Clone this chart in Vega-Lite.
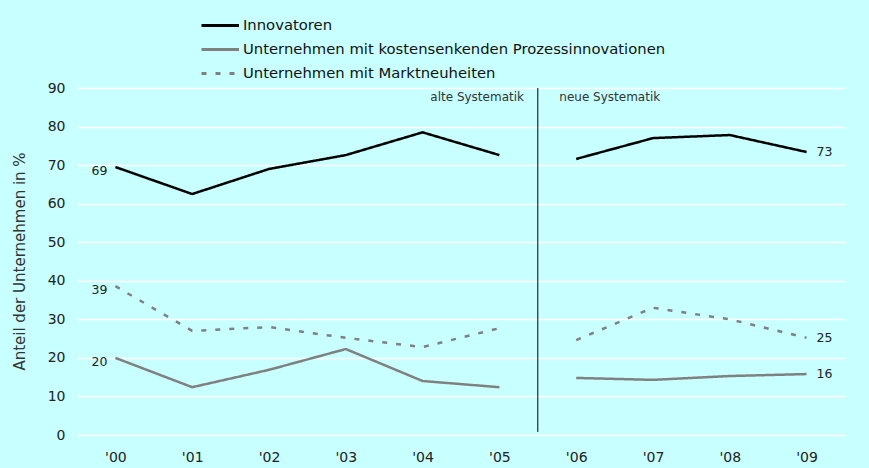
{
  "$schema": "https://vega.github.io/schema/vega-lite/v6.json",
  "width": 768,
  "height": 347,
  "autosize": "none",
  "padding": {"left": 77, "top": 88, "right": 24, "bottom": 33},
  "background": "#c8ffff",
  "config": {
    "view": {"stroke": null},
    "font": "DejaVu Sans",
    "axis": {"labelColor": "#222222", "labelFontSize": 14, "titleColor": "#333333", "domain": false, "ticks": false, "labelOverlap": false},
    "axisX": {"grid": false, "labelPadding": 15},
    "axisY": {"grid": true, "gridColor": "#ffffff", "gridWidth": 1.5, "labelPadding": 12, "titleFontSize": 15, "titleFontWeight": "normal", "titleX": -57.5, "titleY": 173, "titleBaseline": "middle"}
  },
  "datasets": {
    "lines": [
      {"year": 0, "series": "Innovatoren", "period": "alt", "value": 69.5},
      {"year": 1, "series": "Innovatoren", "period": "alt", "value": 62.5},
      {"year": 2, "series": "Innovatoren", "period": "alt", "value": 69},
      {"year": 3, "series": "Innovatoren", "period": "alt", "value": 72.6},
      {"year": 4, "series": "Innovatoren", "period": "alt", "value": 78.5},
      {"year": 5, "series": "Innovatoren", "period": "alt", "value": 72.6},
      {"year": 6, "series": "Innovatoren", "period": "neu", "value": 71.6},
      {"year": 7, "series": "Innovatoren", "period": "neu", "value": 77},
      {"year": 8, "series": "Innovatoren", "period": "neu", "value": 77.8},
      {"year": 9, "series": "Innovatoren", "period": "neu", "value": 73.4},
      {"year": 0, "series": "Unternehmen mit kostensenkenden Prozessinnovationen", "period": "alt", "value": 20},
      {"year": 1, "series": "Unternehmen mit kostensenkenden Prozessinnovationen", "period": "alt", "value": 12.4},
      {"year": 2, "series": "Unternehmen mit kostensenkenden Prozessinnovationen", "period": "alt", "value": 16.9},
      {"year": 3, "series": "Unternehmen mit kostensenkenden Prozessinnovationen", "period": "alt", "value": 22.3},
      {"year": 4, "series": "Unternehmen mit kostensenkenden Prozessinnovationen", "period": "alt", "value": 14},
      {"year": 5, "series": "Unternehmen mit kostensenkenden Prozessinnovationen", "period": "alt", "value": 12.4},
      {"year": 6, "series": "Unternehmen mit kostensenkenden Prozessinnovationen", "period": "neu", "value": 14.8},
      {"year": 7, "series": "Unternehmen mit kostensenkenden Prozessinnovationen", "period": "neu", "value": 14.3},
      {"year": 8, "series": "Unternehmen mit kostensenkenden Prozessinnovationen", "period": "neu", "value": 15.3},
      {"year": 9, "series": "Unternehmen mit kostensenkenden Prozessinnovationen", "period": "neu", "value": 15.8},
      {"year": 0, "series": "Unternehmen mit Marktneuheiten", "period": "alt", "value": 38.6},
      {"year": 1, "series": "Unternehmen mit Marktneuheiten", "period": "alt", "value": 27},
      {"year": 2, "series": "Unternehmen mit Marktneuheiten", "period": "alt", "value": 28},
      {"year": 3, "series": "Unternehmen mit Marktneuheiten", "period": "alt", "value": 25.2},
      {"year": 4, "series": "Unternehmen mit Marktneuheiten", "period": "alt", "value": 22.8},
      {"year": 5, "series": "Unternehmen mit Marktneuheiten", "period": "alt", "value": 27.7},
      {"year": 6, "series": "Unternehmen mit Marktneuheiten", "period": "neu", "value": 24.6},
      {"year": 7, "series": "Unternehmen mit Marktneuheiten", "period": "neu", "value": 33},
      {"year": 8, "series": "Unternehmen mit Marktneuheiten", "period": "neu", "value": 30},
      {"year": 9, "series": "Unternehmen mit Marktneuheiten", "period": "neu", "value": 25.2}
    ],
    "labels": [
      {"year": 0, "value": 69.5, "text": "69", "side": "left"},
      {"year": 0, "value": 38.6, "text": "39", "side": "left"},
      {"year": 0, "value": 20, "text": "20", "side": "left"},
      {"year": 9, "value": 73.4, "text": "73", "side": "right"},
      {"year": 9, "value": 25.2, "text": "25", "side": "right"},
      {"year": 9, "value": 15.8, "text": "16", "side": "right"}
    ],
    "breaks": [{"year": 5.5, "low": 0.8, "high": 90}],
    "periods": [
      {"year": 5.32, "value": 86.6, "text": "alte Systematik", "side": "left"},
      {"year": 5.78, "value": 86.6, "text": "neue Systematik", "side": "right"}
    ]
  },
  "layer": [
    {
      "data": {"name": "lines"},
      "mark": {"type": "line", "strokeWidth": 2.5},
      "encoding": {
        "x": {
          "field": "year", "type": "quantitative",
          "scale": {"domain": [-0.5, 9.5], "nice": false, "zero": false},
          "axis": {"title": null, "values": [0,1,2,3,4,5,6,7,8,9], "labelExpr": "\"'0\" + datum.value"}
        },
        "y": {
          "field": "value", "type": "quantitative",
          "scale": {"domain": [0, 90], "nice": false},
          "axis": {"title": "Anteil der Unternehmen in %", "tickCount": 9}
        },
        "color": {
          "field": "series", "type": "nominal",
          "scale": {"domain": ["Innovatoren", "Unternehmen mit kostensenkenden Prozessinnovationen", "Unternehmen mit Marktneuheiten"], "range": ["#000000", "#808080", "#808080"]},
          "legend": {"orient": "none", "legendX": 123, "legendY": -71.5, "title": null, "symbolType": "M-1,0H4", "symbolSize": 225, "symbolStrokeWidth": 3, "labelFontSize": 14.8, "labelLimit": 0, "labelColor": "#111111", "labelOffset": 25, "rowPadding": 8, "symbolOffset": 0}
        },
        "strokeDash": {
          "field": "series", "type": "nominal",
          "scale": {"domain": ["Innovatoren", "Unternehmen mit kostensenkenden Prozessinnovationen", "Unternehmen mit Marktneuheiten"], "range": [[1,0],[1,0],[5,9]]},
          "legend": {"orient": "none", "legendX": 123, "legendY": -71.5, "title": null, "symbolType": "M-1,0H4", "symbolSize": 225, "symbolStrokeWidth": 3, "labelFontSize": 14.8, "labelLimit": 0, "labelColor": "#111111", "labelOffset": 25, "rowPadding": 8, "symbolOffset": 0}
        },
        "detail": {"field": "period", "type": "nominal"}
      }
    },
    {
      "data": {"name": "breaks"},
      "mark": {"type": "rule", "color": "#000000", "strokeWidth": 1},
      "encoding": {
        "x": {"field": "year", "type": "quantitative"},
        "y": {"field": "low", "type": "quantitative"},
        "y2": {"field": "high"}
      }
    },
    {
      "data": {"name": "periods"},
      "transform": [{"filter": "datum.side == 'left'"}],
      "mark": {"type": "text", "fontSize": 12, "color": "#333333", "baseline": "alphabetic", "align": "right"},
      "encoding": {
        "x": {"field": "year", "type": "quantitative"},
        "y": {"field": "value", "type": "quantitative"},
        "text": {"field": "text"}
      }
    },
    {
      "data": {"name": "periods"},
      "transform": [{"filter": "datum.side == 'right'"}],
      "mark": {"type": "text", "fontSize": 12, "color": "#333333", "baseline": "alphabetic", "align": "left"},
      "encoding": {
        "x": {"field": "year", "type": "quantitative"},
        "y": {"field": "value", "type": "quantitative"},
        "text": {"field": "text"}
      }
    },
    {
      "data": {"name": "labels"},
      "transform": [{"filter": "datum.side == 'left'"}],
      "mark": {"type": "text", "fontSize": 12.5, "color": "#222222", "align": "right", "dx": -8, "dy": 4},
      "encoding": {
        "x": {"field": "year", "type": "quantitative"},
        "y": {"field": "value", "type": "quantitative"},
        "text": {"field": "text"}
      }
    },
    {
      "data": {"name": "labels"},
      "transform": [{"filter": "datum.side == 'right'"}],
      "mark": {"type": "text", "fontSize": 12.5, "color": "#222222", "align": "left", "dx": 10, "dy": 0},
      "encoding": {
        "x": {"field": "year", "type": "quantitative"},
        "y": {"field": "value", "type": "quantitative"},
        "text": {"field": "text"}
      }
    }
  ]
}
